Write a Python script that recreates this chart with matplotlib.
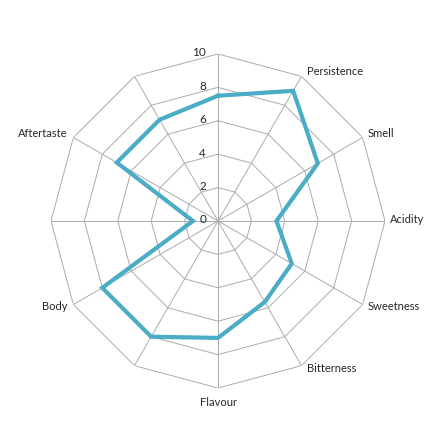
import numpy as np
import matplotlib.pyplot as plt

# 12 spokes, only some carry a label
categories = ['', 'Persistence', 'Smell', 'Acidity', 'Sweetness', 'Bitterness',
              'Flavour', '', 'Body', '', 'Aftertaste', '']
values = [7.5, 9.0, 6.9, 3.5, 5.1, 5.6, 7.0, 8.0, 8.0, 1.5, 7.0, 7.0]
ring_levels = [2, 4, 6, 8, 10]
tick_labels = ['0', '2', '4', '6', '8', '10']

plt.rcParams['font.family'] = ['Lato', 'DejaVu Sans']

n = len(categories)
angles = np.linspace(0, 2 * np.pi, n, endpoint=False)
closed = np.append(angles, angles[0])

fig = plt.figure(figsize=(4.46, 4.46), dpi=100)
ax = fig.add_axes([0.1143, 0.130, 0.749, 0.749], projection='polar')
ax.set_theta_zero_location('N')
ax.set_theta_direction(-1)
ax.set_ylim(0, 10)
ax.grid(False)
ax.spines['polar'].set_visible(False)
ax.set_xticks([])
ax.set_yticks([])
ax.patch.set_alpha(0)

grid_col = '#ababab'
# polygon rings
for r in ring_levels:
    ax.plot(closed, [r] * (n + 1), color=grid_col, lw=0.7, zorder=1)
# spokes
for a in angles:
    ax.plot([a, a], [0, 10], color=grid_col, lw=0.7, zorder=1)

# data line
ax.plot(closed, values + values[:1], color='#4bacc6', lw=3.0,
        solid_joinstyle='miter', zorder=3)

# value labels along the top spoke
for i, t in enumerate(tick_labels):
    ax.annotate(t, xy=(0, 2 * i), xytext=(-12, 1), textcoords='offset pixels',
                ha='right', va='center', fontsize=8.5, color='#262626')

# category labels
for a, lab in zip(angles, categories):
    if not lab:
        continue
    deg = np.degrees(a)
    if deg == 0 or deg == 180:
        ha, off = 'center', (0, -9 if deg == 180 else 8)
        va = 'top' if deg == 180 else 'bottom'
    elif deg < 180:
        ha, va = 'left', 'center'
        off = (5, 5 * np.cos(a) + 1)
    else:
        ha, va = 'right', 'center'
        off = (-6, 5 * np.cos(a) + 1)
    ax.annotate(lab, xy=(a, 10), xytext=off, textcoords='offset pixels',
                ha=ha, va=va, fontsize=8, color='#262626')

fig.savefig('out.png', dpi=100)
